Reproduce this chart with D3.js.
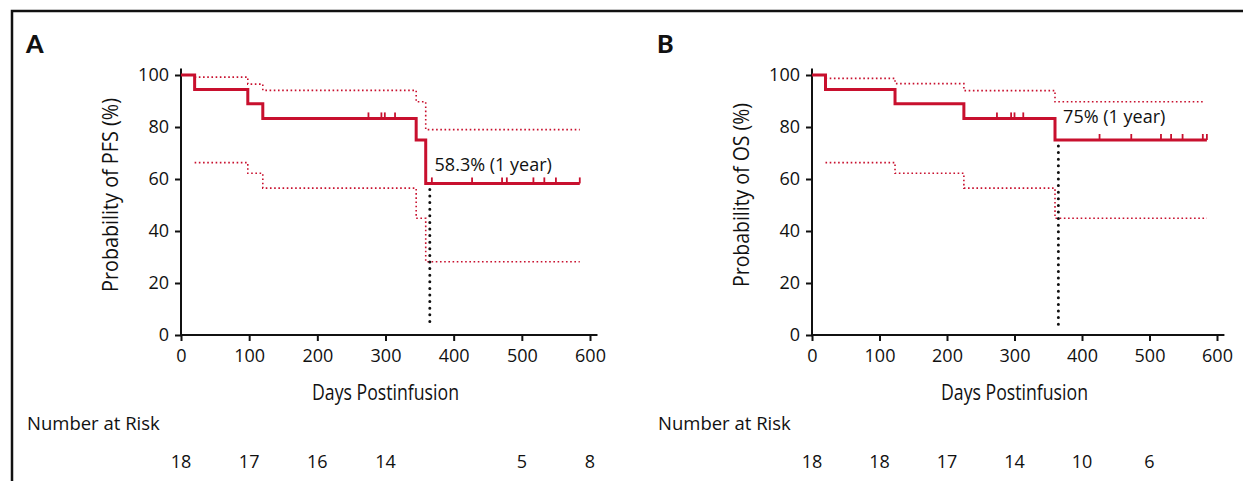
<!DOCTYPE html>
<html lang="en">
<head>
<meta charset="UTF-8">
<title>PFS and OS Kaplan-Meier</title>
<script src="https://d3js.org/d3.v7.min.js"></script>
<style>
  body { margin: 0; background: #fff; }
  svg { display: block; }
  .tick text { font-family: "Open Sans", "Noto Sans", sans-serif; font-size: 18px; fill: #111; }
  .narrow { font-family: "Open Sans", "Noto Sans", sans-serif; fill: #111; }
  .plain { font-family: "Open Sans", "Noto Sans", sans-serif; fill: #111; }
</style>
</head>
<body>
<svg width="1243" height="481"></svg>
<script>
  // ---- data ----
  const xTicks = [0, 100, 200, 300, 400, 500, 600]
  const yTicks = [0, 20, 40, 60, 80, 100]

  // Panel A: PFS
  const pfsSteps = [[0, 100], [20, 94.4], [98, 88.9], [120, 83.3], [345, 75], [359, 58.3], [585, 58.3]]
  const pfsUpper = [[20, 99.2], [98, 96.5], [120, 94.1], [345, 89.7], [359, 79], [585, 79]]
  const pfsLower = [[20, 66.3], [98, 62.2], [120, 56.5], [345, 44.9], [359, 28.2], [585, 28.2]]
  const pfsCensor = [275, 294, 299, 314, 368, 427, 471, 478, 517, 533, 550, 585]
  const pfsRisk = [18, 17, 16, 14, null, 5, 8]

  // Panel B: OS
  const osSteps = [[0, 100], [20, 94.4], [123, 88.9], [225, 83.3], [360, 75], [585, 75]]
  const osUpper = [[20, 98.7], [123, 96.7], [225, 94], [360, 89.7], [580, 89.7]]
  const osLower = [[20, 66.3], [123, 62.2], [225, 56.5], [360, 44.9], [585, 44.9]]
  const osCensor = [274, 295, 300, 313, 426, 473, 517, 532, 549, 579, 585]
  const osRisk = [18, 18, 17, 14, 10, 6, null]

  const red = "#c8102e"
  const svg = d3.select("svg")

  // frame
  svg.append("path").attr("d", "M12,481 V11 H1243").attr("fill", "none")
     .attr("stroke", "#111").attr("stroke-width", 2.5)

  const panels = [
    {letter: "A", ox: 0, x0: 181, x1: 590, ylab: "Probability of PFS (%)", ylen: 194, steps: pfsSteps, upper: pfsUpper,
     lower: pfsLower, censor: pfsCensor, risk: pfsRisk, mark: 58.3, note: "58.3% (1 year)", noteY: 165},
    {letter: "B", ox: 631, x0: 812, x1: 1217, ylab: "Probability of OS (%)", ylen: 184, steps: osSteps, upper: osUpper,
     lower: osLower, censor: osCensor, risk: osRisk, mark: 75, note: "75% (1 year)", noteY: 117}
  ]

  const yScale = d3.scaleLinear().domain([0, 100]).range([335, 75])

  // value of a step function at time t
  const stepAt = (steps, t) => {
    let v = steps[0][1]
    steps.forEach(d => { if (d[0] <= t) v = d[1] })
    return v
  }

  panels.forEach(p => {
    const xScale = d3.scaleLinear().domain([0, 600]).range([p.x0, p.x1])
    const g = svg.append("g")

    g.append("text").attr("x", p.ox + 26).attr("y", 53).text(p.letter)
      .attr("font-family", "Lato, 'DejaVu Sans', sans-serif").attr("font-weight", 900)
      .attr("font-size", 25).attr("fill", "#111")

    // axes
    const xAxis = g.append("g").attr("transform", "translate(0,335)")
      .call(d3.axisBottom(xScale).tickValues(xTicks).tickSize(6).tickPadding(8))
    xAxis.select(".domain").attr("d", `M${p.x0},0H${xScale(611)}`)
    const yAxis = g.append("g").attr("transform", `translate(${p.x0},0)`)
      .call(d3.axisLeft(yScale).tickValues(yTicks).tickSize(6).tickPadding(6))
    yAxis.select(".domain").attr("d", `M0,${yScale(-0.5)}V${yScale(102.5)}`)
    g.selectAll(".domain, .tick line").attr("stroke", "#111").attr("stroke-width", 2)

    // condensed-looking titles
    g.append("text").attr("class", "narrow").attr("font-size", 22)
      .attr("transform", `translate(${p.ox + 118},${yScale(50) - 10}) rotate(-90)`)
      .attr("text-anchor", "middle").attr("textLength", p.ylen).attr("lengthAdjust", "spacingAndGlyphs")
      .text(p.ylab)
    g.append("text").attr("class", "narrow").attr("font-size", 22)
      .attr("x", xScale(300)).attr("y", 400).attr("text-anchor", "middle")
      .attr("textLength", 147).attr("lengthAdjust", "spacingAndGlyphs").text("Days Postinfusion")

    const line = d3.line().x(d => xScale(d[0])).y(d => yScale(d[1])).curve(d3.curveStepAfter)

    // confidence bands
    ;[p.upper, p.lower].forEach(band => {
      g.append("path").attr("d", line(band)).attr("fill", "none")
        .attr("stroke", red).attr("stroke-width", 1.6).attr("stroke-dasharray", "1.6,2.6")
    })

    // 1-year marker
    g.append("line").attr("x1", xScale(365)).attr("x2", xScale(365))
      .attr("y1", yScale(p.mark) + 6).attr("y2", yScale(4))
      .attr("stroke", "#111").attr("stroke-width", 3)
      .attr("stroke-linecap", "round").attr("stroke-dasharray", "0,6.6")

    // survival curve
    g.append("path").attr("d", line(p.steps)).attr("fill", "none")
      .attr("stroke", red).attr("stroke-width", 3)

    g.selectAll(".censor").data(p.censor).enter().append("line")
      .attr("x1", d => xScale(d)).attr("x2", d => xScale(d))
      .attr("y1", d => yScale(stepAt(p.steps, d))).attr("y2", d => yScale(stepAt(p.steps, d)) - 6)
      .attr("stroke", red).attr("stroke-width", 1.8)

    g.append("text").attr("class", "plain").attr("font-size", 18)
      .attr("x", xScale(372)).attr("y", p.noteY + 6).text(p.note)

    // number at risk
    g.append("text").attr("class", "plain").attr("font-size", 18.5)
      .attr("x", p.ox + 27).attr("y", 430).text("Number at Risk")
    g.selectAll(".risk").data(xTicks.map((t, i) => [t, p.risk[i]]).filter(d => d[1] !== null))
      .enter().append("text").attr("class", "plain").attr("font-size", 18)
      .attr("x", d => xScale(d[0])).attr("y", 468).attr("text-anchor", "middle").text(d => d[1])
  })
</script>
</body>
</html>
